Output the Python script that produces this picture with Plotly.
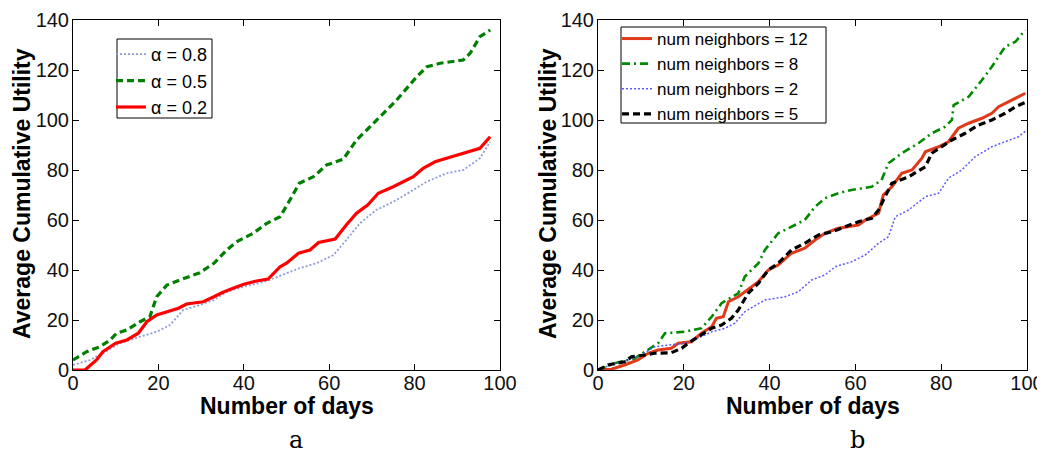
import plotly.graph_objects as go

# ---- panel a: alpha sweep ----
days_a08 = [0, 4, 7, 11, 15.7, 19.6, 22.7, 25.8, 29.7, 33, 36, 40, 45.4, 50, 53, 57, 61, 64, 67.2, 71, 75, 79, 82.8, 87.5, 91.4, 95.3, 97.7]
util_a08 = [2, 4, 6.7, 10.7, 13.3, 15.3, 18, 24, 26, 28, 31.3, 33.3, 35.6, 38.7, 40.7, 42.7, 46, 52, 58.7, 64, 67.3, 71.3, 75.3, 78.7, 80, 84.7, 91.3]

days_a05 = [0, 3.2, 6.3, 8.7, 10.2, 12.6, 15.7, 18, 19.6, 22, 25, 27.4, 29.7, 33, 36, 38.3, 42.2, 45.4, 48.5, 50.8, 53, 56.3, 59.4, 63.3, 66.4, 68.8, 71.9, 75.8, 80.5, 82.9, 86, 91.4, 93, 95.3, 97.7]
util_a05 = [4, 7.3, 9.3, 12, 14.7, 16, 19.3, 21.3, 29.3, 34, 36, 37.6, 38.9, 42.7, 48, 51.3, 54.7, 58.7, 61.3, 68, 74.7, 77.3, 82, 84.3, 92, 96, 101.3, 108, 117.3, 121.3, 122.7, 124, 126.7, 133.3, 136]

days_a02 = [0, 2.8, 5.5, 7, 10, 12.6, 15.3, 17.3, 19.6, 22, 24.7, 26.6, 30.5, 33, 35, 37.5, 40, 43, 45.7, 48.5, 50, 52.8, 55.5, 57.5, 61.4, 64, 66.4, 69, 71.5, 75, 79.7, 82, 84.8, 87.5, 91.4, 95.3, 97.7]
util_a02 = [0, 0, 4, 7.3, 10.7, 12, 14.7, 19.3, 22, 23.3, 24.7, 26.4, 27.3, 29.3, 31, 32.7, 34.3, 35.6, 36.4, 41.3, 42.7, 46.7, 48, 51, 52.4, 58, 62.7, 66, 70.7, 73.3, 77.3, 80.7, 83.3, 84.7, 86.7, 88.7, 93.3]

# ---- panel b: neighbour count sweep ----
days_n12 = [0, 3.1, 6.2, 9.3, 11.7, 14, 17.1, 18.7, 21.8, 24.1, 26.5, 27.6, 29.2, 30.4, 32.7, 34.2, 37.4, 39.7, 42, 45.1, 48.2, 50.6, 52.9, 56, 59.1, 60.7, 62.3, 65.4, 66.5, 68.5, 70.8, 73.2, 75.5, 76.3, 79.4, 81.7, 84, 86.4, 89.5, 91.8, 93.4, 96.5, 99.6]
util_n12 = [0, 0.3, 2, 4, 6.7, 8, 8.7, 10.7, 11.3, 14.7, 17.3, 20.7, 21.3, 27.3, 29.3, 31.3, 35.3, 40, 42, 46.7, 48.7, 52, 54.7, 56.7, 57.6, 58, 60, 62.7, 70, 73.3, 78.7, 80, 84.7, 87.3, 89.3, 91.3, 96.7, 98.7, 100.7, 102.7, 105.3, 108, 110.7]

days_n8 = [0, 3.9, 8.6, 11.7, 14, 15.6, 20.2, 24.1, 26.5, 28.8, 32.7, 34.2, 37.4, 38.9, 42, 45.1, 48.2, 50.6, 52.9, 56, 59.1, 63.8, 66.1, 67.7, 70.8, 74.7, 77.8, 80.9, 82.5, 82.9, 86.4, 89.5, 91.8, 94.9, 97.3, 99.6]
util_n8 = [0, 2.7, 4.7, 8, 10.7, 14.7, 15.3, 16.7, 21.3, 26.7, 30.7, 37.3, 42.7, 48, 54.7, 57.3, 60, 65.3, 68.7, 70.7, 72, 73.3, 76, 82.7, 86.7, 90.7, 94.7, 97.3, 100, 106, 109.3, 116, 121.3, 129.3, 131.3, 136]

days_n2 = [0, 4.7, 9.3, 13.2, 16.3, 20.2, 23.3, 26.5, 29.6, 31.9, 34.2, 38.9, 43.6, 46.7, 49.8, 52.9, 55.3, 59.1, 62.3, 65.4, 67.7, 69.3, 72.4, 76.3, 79.4, 81.7, 84.8, 87.9, 91.8, 94.9, 98, 100]
util_n2 = [0.3, 2.7, 5.3, 9.3, 10, 10.7, 12.7, 15.3, 16.7, 18.7, 23.3, 28, 29.3, 31.3, 36, 38, 41.3, 43.3, 46, 50.7, 53.3, 61.3, 64, 69.3, 70.7, 76.7, 80, 85.3, 89.3, 91.3, 93.3, 96]

days_n5 = [0, 2.3, 6.2, 7.8, 10.9, 13.2, 17.1, 19.5, 21, 23.3, 26.5, 28.8, 31.1, 32.7, 35, 37.4, 39.7, 42, 45.1, 48.2, 51.4, 54.5, 57.6, 60.7, 63.8, 65.4, 66.9, 68.5, 72.4, 76.3, 77.8, 80.2, 82.5, 85.6, 88.7, 91.8, 94.9, 97.3, 100]
util_n5 = [0, 2, 3.3, 5.3, 6, 6.7, 6.9, 8.7, 10.7, 13.3, 16.7, 18, 20.7, 24, 30.7, 34.7, 40, 42.7, 48, 50.7, 54, 55.3, 57.3, 59.3, 60.7, 64, 69.3, 74.7, 77.3, 81.3, 86.7, 89.3, 92, 94.7, 98, 100, 102.7, 105.3, 107.3]

xticks = [0, 20, 40, 60, 80, 100]
yticks = [0, 20, 40, 60, 80, 100, 120, 140]

FONT = "Liberation Sans, Arial, sans-serif"
OFF = 8                     # page body margin
W, H = 1045 - OFF, 456 - OFF


def px(x):
    # screen pixel -> paper x
    return (x - OFF) / W


def py(y):
    # screen pixel -> paper y
    return 1 - (y - OFF) / H


fig = go.Figure()

# panel a traces (legend order: 0.8, 0.5, 0.2)
fig.add_trace(go.Scatter(x=days_a08, y=util_a08, mode="lines", name="α = 0.8",
                         line=dict(color="#8f9ad8", width=1.8, dash="2px,2px"),
                         xaxis="x", yaxis="y", legend="legend"))
fig.add_trace(go.Scatter(x=days_a05, y=util_a05, mode="lines", name="α = 0.5",
                         line=dict(color="#007f00", width=3.2, dash="7px,4px"),
                         xaxis="x", yaxis="y", legend="legend"))
fig.add_trace(go.Scatter(x=days_a02, y=util_a02, mode="lines", name="α = 0.2",
                         line=dict(color="#ff0000", width=3.2),
                         xaxis="x", yaxis="y", legend="legend"))

# panel b traces (legend order: 12, 8, 2, 5)
fig.add_trace(go.Scatter(x=days_n12, y=util_n12, mode="lines", name="num neighbors = 12",
                         line=dict(color="#e03a1a", width=3),
                         xaxis="x2", yaxis="y2", legend="legend2"))
fig.add_trace(go.Scatter(x=days_n8, y=util_n8, mode="lines", name="num neighbors = 8",
                         line=dict(color="#008a00", width=2.6, dash="8px,4px,2px,4px"),
                         xaxis="x2", yaxis="y2", legend="legend2"))
fig.add_trace(go.Scatter(x=days_n2, y=util_n2, mode="lines", name="num neighbors = 2",
                         line=dict(color="#5a5aff", width=1.5, dash="2px,2px"),
                         xaxis="x2", yaxis="y2", legend="legend2"))
fig.add_trace(go.Scatter(x=days_n5, y=util_n5, mode="lines", name="num neighbors = 5",
                         line=dict(color="#000000", width=3.2, dash="7px,4px"),
                         xaxis="x2", yaxis="y2", legend="legend2"))

axis_common = dict(showline=True, linecolor="black", linewidth=1, mirror="ticks",
                   ticks="inside", ticklen=6, tickcolor="black", showgrid=False,
                   zeroline=False, automargin=False,
                   tickfont=dict(family=FONT, size=20, color="#111"))

legend_common = dict(xanchor="left", yanchor="top", bgcolor="rgba(0,0,0,0)",
                     borderwidth=0, itemwidth=30, tracegroupgap=0)

fig.update_layout(
    width=W, height=H,
    margin=dict(l=0, r=0, t=0, b=0, pad=0, autoexpand=False),
    paper_bgcolor="white", plot_bgcolor="white",
    xaxis=dict(domain=[px(73), px(500)], range=[0, 100], tickvals=xticks, anchor="y",
               ticklabelstandoff=-5, **axis_common),
    yaxis=dict(domain=[py(370), py(20)], range=[0, 140], tickvals=yticks, anchor="x",
               ticklabelstandoff=-1, **axis_common),
    xaxis2=dict(domain=[px(598), px(1027)], range=[0, 100], tickvals=xticks, anchor="y2",
                ticklabelstandoff=-5, **axis_common),
    yaxis2=dict(domain=[py(370), py(20)], range=[0, 140], tickvals=yticks, anchor="x2",
                ticklabelstandoff=-1, **axis_common),
    legend=dict(x=px(111), y=py(36), font=dict(family=FONT, size=18, color="black"),
                **legend_common),
    legend2=dict(x=px(617), y=py(21), font=dict(family=FONT, size=17, color="black"),
                 **legend_common),
)

# legend frames
for x0, y0, x1, y1 in [(117, 39, 212, 118), (621, 27, 826, 123)]:
    fig.add_shape(type="rect", xref="paper", yref="paper",
                  x0=px(x0), x1=px(x1), y0=py(y1), y1=py(y0),
                  line=dict(color="black", width=1), fillcolor="white", layer="above")

# axis titles and panel labels
for cx in [287, 813]:
    fig.add_annotation(x=px(cx), y=py(406), xref="paper", yref="paper",
                       xanchor="center", yanchor="middle",
                       text="<b>Number of days</b>", showarrow=False,
                       font=dict(family=FONT, size=23, color="black"))
for cx in [22, 548]:
    fig.add_annotation(x=px(cx), y=py(194), xref="paper", yref="paper",
                       xanchor="center", yanchor="middle",
                       text="<b>Average Cumulative Utility</b>", showarrow=False, textangle=-90,
                       font=dict(family=FONT, size=23, color="black"))
for cx, lbl in [(296, "a"), (857, "b")]:
    fig.add_annotation(x=px(cx), y=0, xref="paper", yref="paper",
                       xanchor="center", yanchor="bottom",
                       text=lbl, showarrow=False,
                       font=dict(family="DejaVu Serif, Liberation Serif, serif", size=24, color="black"))

fig.write_html("out.html")
